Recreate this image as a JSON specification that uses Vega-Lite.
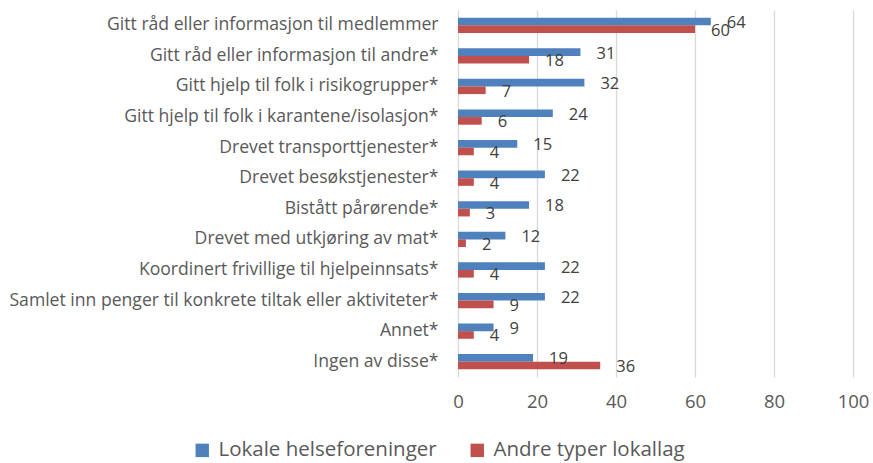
{
  "$schema": "https://vega.github.io/schema/vega-lite/v6.json",
  "autosize": {"type": "none"},
  "padding": {"left": 458, "top": 10, "right": 20, "bottom": 86},
  "width": 395,
  "height": 367,
  "config": {
    "view": {"stroke": null},
    "font": "Open Sans",
    "axis": {"labelColor": "#595959", "labelFont": "Open Sans"},
    "legend": {"labelColor": "#595959", "labelFont": "Open Sans"}
  },
  "data": {
    "values": [
      {"kategori": "Gitt råd eller informasjon til medlemmer", "serie": "Lokale helseforeninger", "verdi": 64},
      {"kategori": "Gitt råd eller informasjon til medlemmer", "serie": "Andre typer lokallag", "verdi": 60},
      {"kategori": "Gitt råd eller informasjon til andre*", "serie": "Lokale helseforeninger", "verdi": 31},
      {"kategori": "Gitt råd eller informasjon til andre*", "serie": "Andre typer lokallag", "verdi": 18},
      {"kategori": "Gitt hjelp til folk i risikogrupper*", "serie": "Lokale helseforeninger", "verdi": 32},
      {"kategori": "Gitt hjelp til folk i risikogrupper*", "serie": "Andre typer lokallag", "verdi": 7},
      {"kategori": "Gitt hjelp til folk i karantene/isolasjon*", "serie": "Lokale helseforeninger", "verdi": 24},
      {"kategori": "Gitt hjelp til folk i karantene/isolasjon*", "serie": "Andre typer lokallag", "verdi": 6},
      {"kategori": "Drevet transporttjenester*", "serie": "Lokale helseforeninger", "verdi": 15},
      {"kategori": "Drevet transporttjenester*", "serie": "Andre typer lokallag", "verdi": 4},
      {"kategori": "Drevet besøkstjenester*", "serie": "Lokale helseforeninger", "verdi": 22},
      {"kategori": "Drevet besøkstjenester*", "serie": "Andre typer lokallag", "verdi": 4},
      {"kategori": "Bistått pårørende*", "serie": "Lokale helseforeninger", "verdi": 18},
      {"kategori": "Bistått pårørende*", "serie": "Andre typer lokallag", "verdi": 3},
      {"kategori": "Drevet med utkjøring av mat*", "serie": "Lokale helseforeninger", "verdi": 12},
      {"kategori": "Drevet med utkjøring av mat*", "serie": "Andre typer lokallag", "verdi": 2},
      {"kategori": "Koordinert frivillige til hjelpeinnsats*", "serie": "Lokale helseforeninger", "verdi": 22},
      {"kategori": "Koordinert frivillige til hjelpeinnsats*", "serie": "Andre typer lokallag", "verdi": 4},
      {"kategori": "Samlet inn penger til konkrete tiltak eller aktiviteter*", "serie": "Lokale helseforeninger", "verdi": 22},
      {"kategori": "Samlet inn penger til konkrete tiltak eller aktiviteter*", "serie": "Andre typer lokallag", "verdi": 9},
      {"kategori": "Annet*", "serie": "Lokale helseforeninger", "verdi": 9},
      {"kategori": "Annet*", "serie": "Andre typer lokallag", "verdi": 4},
      {"kategori": "Ingen av disse*", "serie": "Lokale helseforeninger", "verdi": 19},
      {"kategori": "Ingen av disse*", "serie": "Andre typer lokallag", "verdi": 36}
    ]
  },
  "encoding": {
    "y": {
      "field": "kategori",
      "type": "nominal",
      "sort": null,
      "title": null,
      "scale": {"paddingInner": 0.5, "paddingOuter": 0.25},
      "axis": {"ticks": false, "domain": false, "labelPadding": 20, "labelFontSize": 17.6, "labelLimit": 460}
    },
    "yOffset": {
      "field": "serie",
      "type": "nominal",
      "sort": ["Lokale helseforeninger", "Andre typer lokallag"],
      "scale": {"paddingInner": 0, "paddingOuter": 0}
    },
    "x": {
      "field": "verdi",
      "type": "quantitative",
      "title": null,
      "scale": {"domain": [0, 100], "nice": false},
      "axis": {"values": [0, 20, 40, 60, 80, 100], "ticks": false, "domain": false, "grid": true, "gridColor": "#D9D9D9", "gridWidth": 1.3, "labelFontSize": 18.5, "labelPadding": 15, "labelFlush": false}
    }
  },
  "layer": [
    {
      "mark": {"type": "bar"},
      "encoding": {
        "color": {
          "field": "serie",
          "type": "nominal",
          "sort": ["Lokale helseforeninger", "Andre typer lokallag"],
          "scale": {"domain": ["Lokale helseforeninger", "Andre typer lokallag"], "range": ["#4F81BD", "#C0504D"]},
          "legend": {
            "title": null,
            "orient": "none",
            "direction": "horizontal",
            "legendX": -266,
            "legendY": 430,
            "symbolType": "square",
            "symbolSize": 180,
            "symbolStrokeWidth": 0,
            "labelFontSize": 20.5,
            "labelLimit": 400,
            "labelOffset": 6,
            "columnPadding": 30
          }
        }
      }
    },
    {
      "mark": {"type": "text", "align": "left", "baseline": "middle", "dx": 16, "dy": 1.5, "fontSize": 16.5, "color": "#404040", "font": "Open Sans"},
      "encoding": {"text": {"field": "verdi", "type": "quantitative"}}
    }
  ]
}
